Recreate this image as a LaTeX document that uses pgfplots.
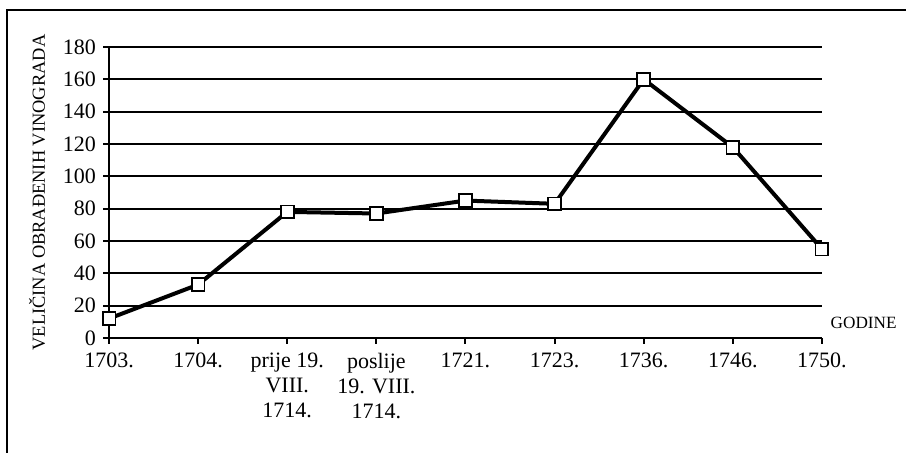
\documentclass[border=0pt]{standalone}
\usepackage{fontspec}
\setmainfont{Liberation Serif}
\usepackage{pgfplots}
\pgfplotsset{compat=1.18}
\begin{document}
\begin{tikzpicture}
\useasboundingbox (0,0) rectangle (453pt,226.5pt);
\draw[line width=1pt] (3.4pt,-2pt) -- (3.4pt,221.7pt) -- (455pt,221.7pt);
\begin{axis}[
  at={(54.5pt,57.5pt)}, anchor=south west,
  scale only axis, width=356.5pt, height=145.5pt,
  xmin=0, xmax=8, ymin=0, ymax=180,
  axis x line*=bottom, axis y line*=left,
  axis line style={line width=1pt, -},
  xtick={0,1,...,8},
  xticklabels={1703.,1704.,{prije 19.\\VIII.\\1714.},{poslije\\19. VIII.\\1714.},1721.,1723.,1736.,1746.,1750.},
  xticklabel style={align=center, font=\fontsize{11}{12.5}\selectfont, yshift=-1pt},
  ytick={0,20,...,180},
  yticklabel style={font=\fontsize{11}{12}\selectfont},
  /pgf/number format/assume math mode=true,
  tick align=outside,
  major tick length=3pt,
  tick style={line width=1pt, black},
  ymajorgrids,
  major grid style={line width=1pt, black},
  ylabel={VELIČINA OBRAĐENIH VINOGRADA},
  ylabel style={at={(axis description cs:-0.101,0.5)}, anchor=center, font=\fontsize{9.2}{10}\selectfont},
  xlabel={GODINE},
  xlabel style={at={(axis description cs:1.006,0.052)}, anchor=west, font=\fontsize{8.6}{10}\selectfont, inner xsep=2pt},
  clip=false,
]
\addplot[black, line width=2pt, mark=square*, mark size=3.2pt,
  mark options={fill=white, draw=black, line width=0.9pt, solid}]
  coordinates {(0,12) (1,33) (2,78) (3,77) (4,85) (5,83) (6,160) (7,118) (8,55)};
\end{axis}
\end{tikzpicture}
\end{document}
